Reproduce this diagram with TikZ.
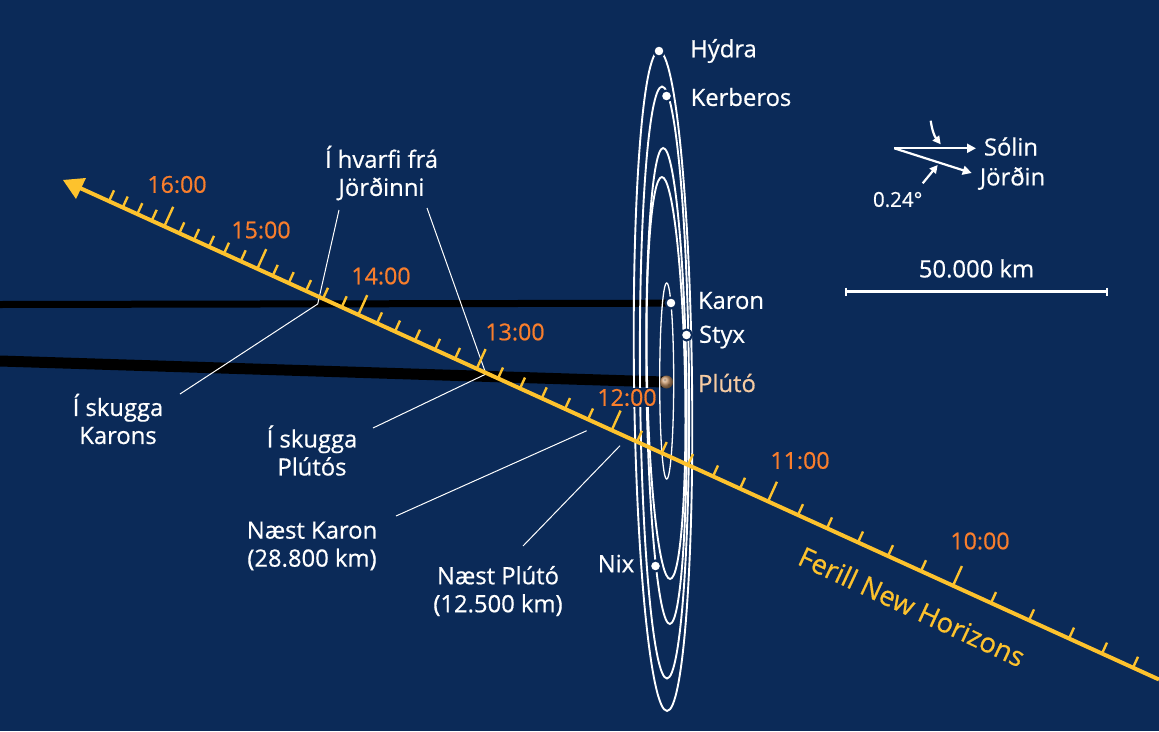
\documentclass[tikz,border=0pt]{standalone}
\usepackage{fontspec}
\setmainfont[FakeBold=0.6]{Open Sans}
\usetikzlibrary{arrows.meta}
\definecolor{navy}{HTML}{0B2A58}
\definecolor{traj}{HTML}{FDC22D}
\definecolor{hour}{HTML}{F97E2C}
\definecolor{plutotxt}{HTML}{F6CBA2}
\tikzset{
  orbit/.style={draw=white,line width=1.9pt},
  shadowband/.style={draw=black},
  leader/.style={draw=white,line width=1pt},
  moon/.style={circle,fill=white,draw=navy,line width=2pt,minimum size=11pt,inner sep=0pt},
  lbl/.style={text=white,font=\fontsize{23.8}{28}\selectfont,inner sep=0pt,align=center},
  hourlbl/.style={text=hour,font=\fontsize{23.2}{28}\selectfont,inner sep=0pt},
  pointer/.style={draw=white,line width=2.2pt,-{Triangle[length=9pt,width=9pt]}},
}
\begin{document}
\begin{tikzpicture}[x=1pt,y=-1pt]
\useasboundingbox (0,0) rectangle (1159,731);
\clip (0,0) rectangle (1159,731);
\fill[navy] (0,0) rectangle (1159,731);
% shadows
\coordinate (kl) at (0,304.5);
\coordinate (kr) at (670,303.2);
\coordinate (pl) at (0,361);
\coordinate (pr) at (664,382);
\draw[shadowband,line width=7pt] (kl) -- (kr);
\draw[shadowband,line width=11pt] (pl) -- (pr);
% orbits
\draw[orbit,rotate around={0.71:(663,381)}] (663,381) ellipse [x radius=29pt,y radius=330pt];
\draw[orbit,rotate around={0.48:(664.5,382.5)}] (664.5,382.5) ellipse [x radius=24.5pt,y radius=296pt];
\draw[orbit,rotate around={0.8:(666.5,386)}] (666.5,386) ellipse [x radius=20pt,y radius=238pt];
\draw[orbit,rotate around={1.18:(666,378)}] (666,378) ellipse [x radius=19pt,y radius=201pt];
\draw[orbit,line width=1.3pt] (666.7,381) ellipse [x radius=7pt,y radius=98pt];
% moons
\node[moon] (hydra) at (659,51) {};
\node[moon] (kerberos) at (666.5,96) {};
\node[moon] (karon) at (671,303) {};
\node[moon] (styx) at (686.5,335) {};
\node[moon] (nix) at (655.5,566) {};
\shade[ball color={rgb,255:red,205;green,155;blue,110}] (666.5,382) circle [radius=6.5pt];
\fill[black!50!brown,opacity=.35] (665,380) circle [radius=1.6pt] (669,385) circle [radius=1.3pt];
% labels first so connectors can use their names
\node[lbl] (hvarf) at (381.5,173) {Í hvarfi frá\\Jörðinni};
\node[lbl] (skk) at (118,419) {Í skugga\\Karons};
\node[lbl] (skp) at (312,450.5) {Í skugga\\Plútós};
\node[lbl] (nk) at (312,546) {Næst Karon\\(28.800 km)};
\node[lbl] (np) at (498,591) {Næst Plútó\\(12.500 km)};
% leaders
\coordinate (a1) at (339,210); \coordinate (a2) at (317.7,304); \coordinate (a3) at (180,394);
\coordinate (b1) at (427,208); \coordinate (b2) at (486,374); \coordinate (b3) at (373,428);
\coordinate (c1) at (586.7,430.7); \coordinate (c2) at (396,516);
\coordinate (d1) at (620,445.7); \coordinate (d2) at (523,546);
\draw[leader] (a1) -- (a2) -- (a3);
\draw[leader] (b1) -- (b2) -- (b3);
\draw[leader] (c1) -- (c2);
\draw[leader] (d1) -- (d2);
% trajectory
\coordinate (ts) at (80,188);
\coordinate (te) at (1159,679.5);
\coordinate (t1) at (63,180);
\coordinate (t2) at (86,178);
\coordinate (t3) at (76,199);
\foreach \x in {109,122.7,137.3,151.7,179.3,194,209,224,240.7,272.7,288.7,306,323,341.7,377,395,415,435,455,498,520,541.7,565,588,637,661.7,688,713,740,798,827,858,888,921,991,1029,1069,1102,1133}{
  \pgfmathsetmacro\y{188+.4555*(\x-80)}
  \draw[traj,line width=2.4pt] (\x,\y) -- ++(5,-10.9);
}
\foreach \x in {164.3,257.3,358.3,476.7,611.7,768,953}{
  \pgfmathsetmacro\y{188+.4555*(\x-80)}
  \draw[traj,line width=2.4pt] (\x,\y) -- ++(8.9,-19.6);
}
\draw[traj,line width=4pt] (ts) -- (te);
\fill[traj] (t1) -- (t2) -- (t3) -- cycle;
% hour labels
\node[hourlbl] (h16) at (177,184.5) {16:00};
\node[hourlbl] (h15) at (261,230) {15:00};
\node[hourlbl] (h14) at (381,276) {14:00};
\node[hourlbl] (h13) at (515,332) {13:00};
\node[hourlbl,fill=navy,inner sep=1pt,minimum height=19pt] (h12) at (627,397.5) {12:00};
\node[hourlbl] (h11) at (800,460.5) {11:00};
\node[hourlbl] (h10) at (980,541) {10:00};
\node[lbl,text=traj,rotate=-25,font=\fontsize{27.3}{30}\selectfont] (ferill) at (912,606.5) {Ferill New Horizons};
% moon labels
\node[lbl] (lh) at (723.5,51) {Hýdra};
\node[lbl] (lk) at (741,97) {Kerberos};
\node[lbl] (lka) at (731,300.5) {Karon};
\node[lbl] (ls) at (722,337) {Styx};
\node[lbl,text=plutotxt] (lp) at (727,383) {Plútó};
\node[lbl] (ln) at (616,563.5) {Nix};
% inset
\coordinate (o) at (894.3,148.3);
\coordinate (os) at (976,148.3);
\coordinate (oj) at (971.7,173);
\draw[pointer] (o) -- (os);
\draw[pointer] (o) -- (oj);
\coordinate (p1) at (930.7,120.7); \coordinate (p2) at (940.7,144.3);
\coordinate (q1) at (922.7,183.3); \coordinate (q2) at (937.7,165);
\draw[pointer,-{Triangle[length=8pt,width=8pt]}] (p1) to[bend right=15] (p2);
\draw[pointer,-{Triangle[length=8pt,width=8pt]}] (q1) -- (q2);
\node[lbl] (sol) at (1011,146.5) {Sólin};
\node[lbl] (jor) at (1012.5,178.5) {Jörðin};
\node[lbl,font=\fontsize{20.5}{24}\selectfont] (ang) at (897.7,199.5) {0.24°};
% scale bar
\coordinate (s1) at (846,291.5); \coordinate (s2) at (1107,291.5);
\draw[white,line width=2.2pt] (s1) -- (s2);
\draw[white,line width=1.6pt] (846,287.5) -- (846,296) (1107,287.5) -- (1107,296);
\node[lbl] (sc) at (976.5,268.5) {50.000 km};
\end{tikzpicture}
\end{document}
